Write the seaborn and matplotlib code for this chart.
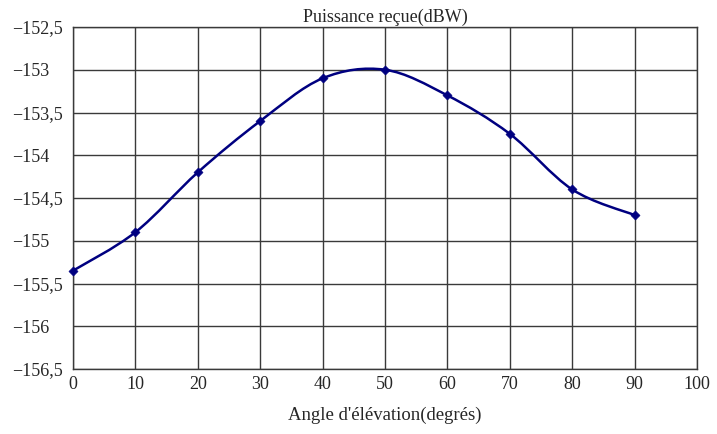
import numpy as np
import matplotlib
matplotlib.use("Agg")
import matplotlib.pyplot as plt
import seaborn as sns
from matplotlib.path import Path
from matplotlib.patches import PathPatch
from matplotlib.ticker import FuncFormatter

# Data
angles = [0, 10, 20, 30, 40, 50, 60, 70, 80, 90]
power = [-155.35, -154.9, -154.2, -153.6, -153.1, -153.0, -153.3, -153.75, -154.4, -154.7]

line_color = "#000080"

sns.set_style("white")
plt.rcParams["font.family"] = ["Liberation Serif", "DejaVu Serif"]

fig = plt.figure(figsize=(7.17, 4.34), dpi=100)
ax = fig.add_axes([73 / 717, 1 - 369 / 434, (697 - 73) / 717, (369 - 27) / 434])

# smoothed line (Bezier through the points, like a spreadsheet "smoothed line")
x = np.array(angles, dtype=float)
y = np.array(power, dtype=float)
verts = [(x[0], y[0])]
codes = [Path.MOVETO]
n = len(x)
for i in range(n - 1):
    p0 = (x[i - 1], y[i - 1]) if i > 0 else (x[i], y[i])
    p1 = (x[i], y[i])
    p2 = (x[i + 1], y[i + 1])
    p3 = (x[i + 2], y[i + 2]) if i + 2 < n else (x[i + 1], y[i + 1])
    c1 = (p1[0] + (p2[0] - p0[0]) / 6, p1[1] + (p2[1] - p0[1]) / 6)
    c2 = (p2[0] - (p3[0] - p1[0]) / 6, p2[1] - (p3[1] - p1[1]) / 6)
    verts += [c1, c2, p2]
    codes += [Path.CURVE4] * 3
ax.add_patch(PathPatch(Path(verts, codes), facecolor="none", edgecolor=line_color,
                       lw=1.8, zorder=3))

sns.scatterplot(x=angles, y=power, ax=ax, marker="D", s=22, color=line_color,
                edgecolor=line_color, zorder=4, clip_on=False)

ax.set_xlim(0, 100)
ax.set_ylim(-156.5, -152.5)
ax.set_xticks(range(0, 101, 10))
ax.set_yticks(np.arange(-156.5, -152.49, 0.5))


def fr_fmt(v, pos):
    s = ("%g" % v).replace(".", ",").replace("-", "\u2212")
    return s


ax.yaxis.set_major_formatter(FuncFormatter(fr_fmt))
ax.xaxis.set_major_formatter(FuncFormatter(fr_fmt))
ax.tick_params(axis="both", labelsize=13, length=0)
ax.tick_params(axis="x", pad=5)
for lbl in ax.get_yticklabels():
    lbl.set_horizontalalignment("left")
ax.tick_params(axis="y", pad=44)

ax.grid(True, color="#3a3a3a", lw=1.0)
for sp in ax.spines.values():
    sp.set_color("#3a3a3a")
    sp.set_linewidth(1.0)

ax.set_title("Puissance reçue(dBW)", fontsize=13, pad=4)
ax.set_xlabel("Angle d'élévation(degrés)", fontsize=13.5, labelpad=10)
ax.set_ylabel("")

fig.savefig("out.png", dpi=100)
